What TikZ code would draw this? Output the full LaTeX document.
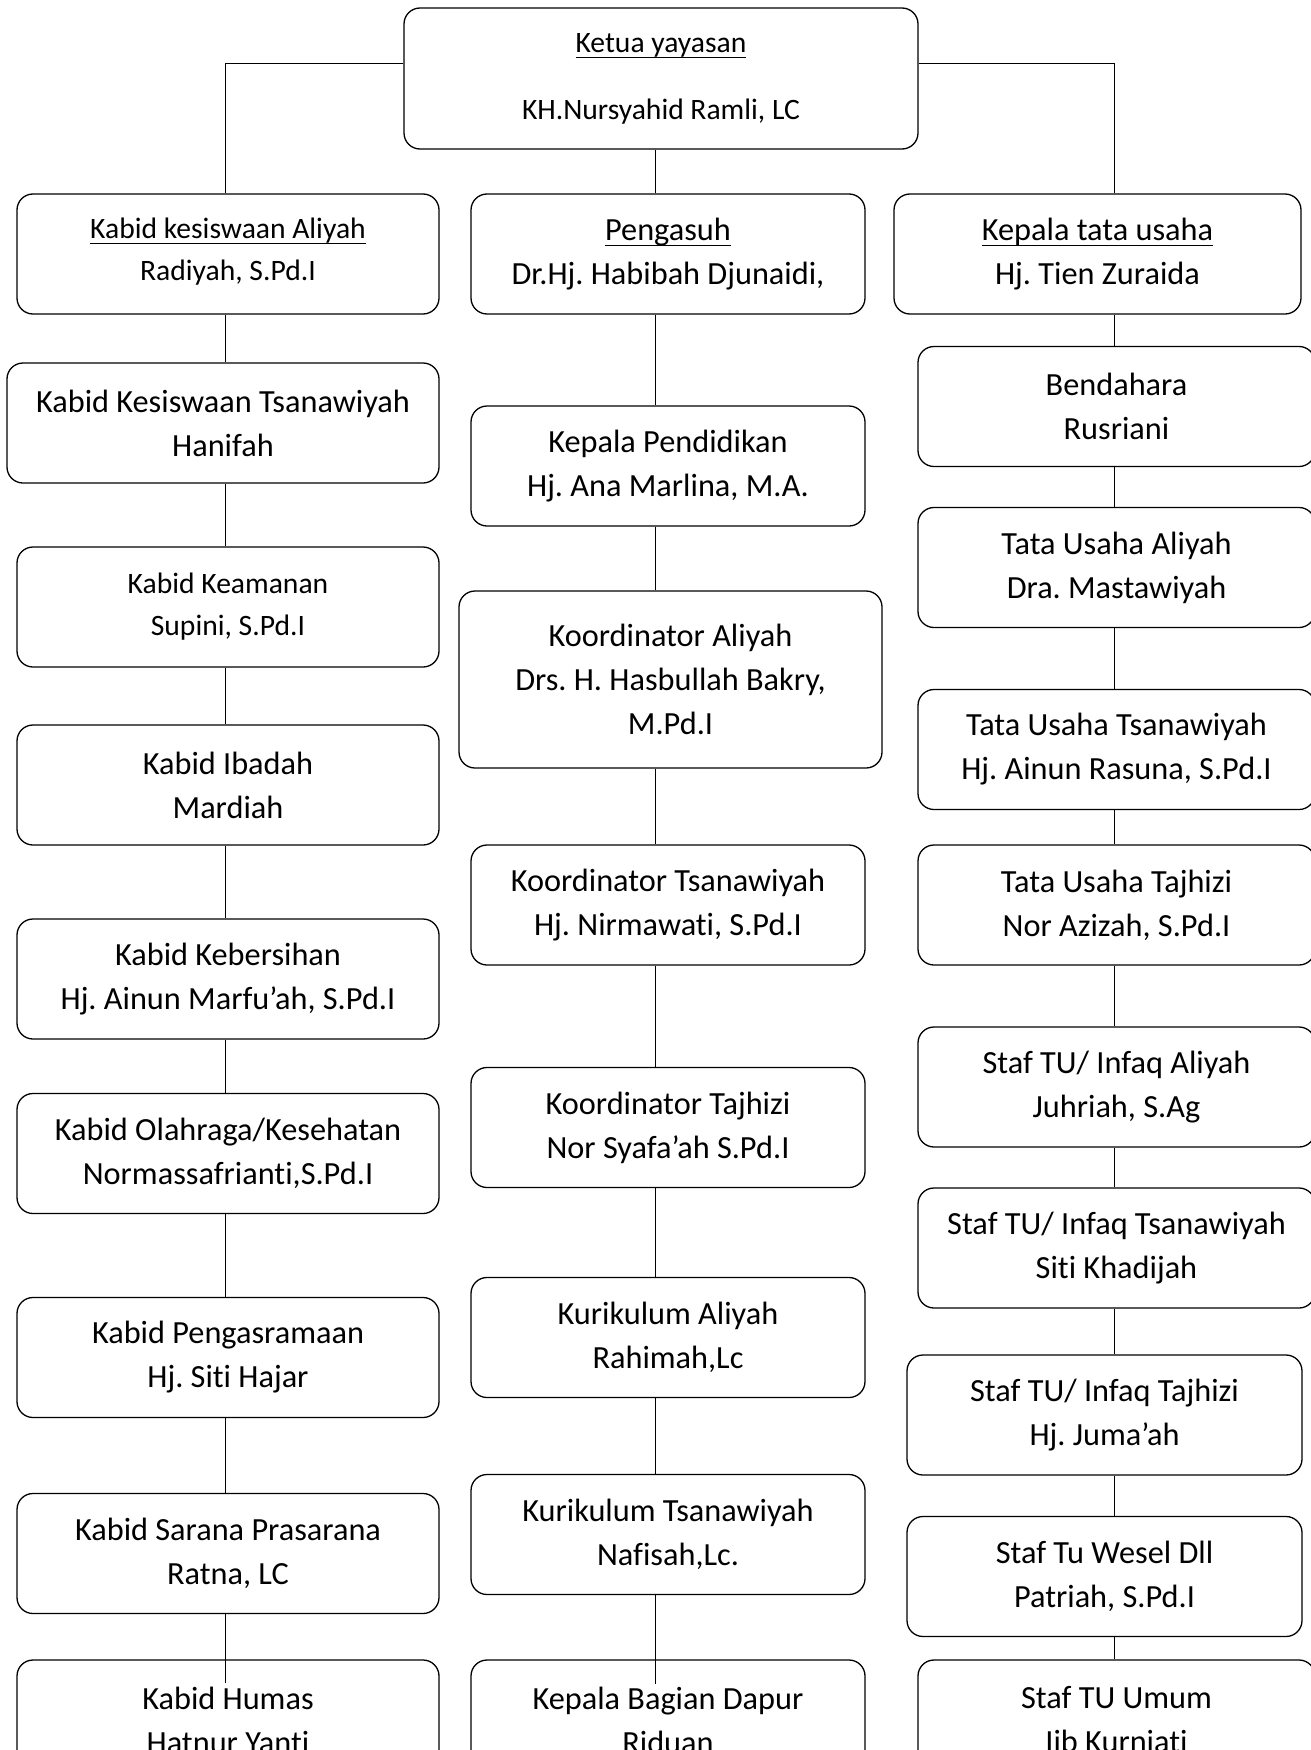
\documentclass[tikz,border=0pt]{standalone}
\usepackage{fontspec}
\setmainfont{Carlito}[Ligatures={NoCommon}]
\usetikzlibrary{calc}
\frenchspacing
\newcommand\garisbawah[1]{\leavevmode\setbox0\hbox{#1}\rlap{\rule[-6pt]{\wd0}{1.4pt}}\box0}

\tikzset{
  kotak/.style={draw, line width=1.3pt, rounded corners=16pt, align=center, inner sep=0pt,
    minimum height=120, font=\fontsize{32.3}{44}\selectfont},
  kotakkecil/.style={kotak, font=\fontsize{29.6}{42}\selectfont},
  garis/.style={line width=1pt},
}

\begin{document}
\begin{tikzpicture}[x=1pt, y=-1pt]
			%%%%% START %%%%%
			\useasboundingbox (0,0) rectangle (1310,1750);
			
			\coordinate (atas) at (0,64);
			\coordinate (kiri) at (225,0);
			\coordinate (tengah) at (655,0);
			\coordinate (kanan) at (1114,0);
			
			% ketua
			\node[kotakkecil, minimum width=514, minimum height=141, font=\fontsize{29.6}{67}\selectfont] (ketua) at (661,78.5) {\garisbawah{Ketua yayasan}\\KH.Nursyahid Ramli, LC};
			
			% kolom kiri
			\node[kotakkecil, minimum width=422, text depth=10pt] (kab1) at (228,254) {\garisbawah{Kabid kesiswaan Aliyah}\\Radiyah, S.Pd.I};
			\node[kotak, minimum width=432] (kab2) at (223,423) {Kabid Kesiswaan Tsanawiyah\\Hanifah};
			\node[kotakkecil, minimum width=422] (kab3) at (228,607) {Kabid Keamanan\\Supini, S.Pd.I};
			\node[kotak, minimum width=422] (kab4) at (228,785) {Kabid Ibadah\\Mardiah};
			\node[kotak, minimum width=422] (kab5) at (228,979) {Kabid Kebersihan\\Hj. Ainun Marfu’ah, S.Pd.I};
			\node[kotak, minimum width=422] (kab6) at (228,1153.5) {Kabid Olahraga/Kesehatan\\Normassafrianti,S.Pd.I};
			\node[kotak, minimum width=422] (kab7) at (228,1357.5) {Kabid Pengasramaan\\Hj. Siti Hajar};
			\node[kotak, minimum width=422] (kab8) at (228,1553.5) {Kabid Sarana Prasarana\\Ratna, LC};
			\node[kotak, minimum width=422] (kab9) at (228,1720) {Kabid Humas\\Hatnur Yanti};
			
			% kolom tengah
			\node[kotak, minimum width=394] (peng1) at (668,254) {\garisbawah{Pengasuh}\\Dr.Hj. Habibah Djunaidi,};
			\node[kotak, minimum width=394] (peng2) at (668,466) {Kepala Pendidikan\\Hj. Ana Marlina, M.A.};
			\node[kotak, minimum width=423, minimum height=177] (peng3) at (670.5,679.5) {Koordinator Aliyah\\Drs. H. Hasbullah Bakry,\\M.Pd.I};
			\node[kotak, minimum width=394] (peng4) at (668,905) {Koordinator Tsanawiyah\\Hj. Nirmawati, S.Pd.I};
			\node[kotak, minimum width=394] (peng5) at (668,1127.5) {Koordinator Tajhizi\\Nor Syafa’ah S.Pd.I};
			\node[kotak, minimum width=394] (peng6) at (668,1337.5) {Kurikulum Aliyah\\Rahimah,Lc};
			\node[kotak, minimum width=394] (peng7) at (668,1534.5) {Kurikulum Tsanawiyah\\Nafisah,Lc.};
			\node[kotak, minimum width=394] (peng8) at (668,1720) {Kepala Bagian Dapur\\Riduan};
			
			% kolom kanan
			\node[kotak, minimum width=407] (tu1) at (1097.5,254) {\garisbawah{Kepala tata usaha}\\Hj. Tien Zuraida};
			\node[kotak, minimum width=397] (tu2) at (1116.5,406.5) {Bendahara\\Rusriani};
			\node[kotak, minimum width=397] (tu3) at (1116.5,567.5) {Tata Usaha Aliyah\\Dra. Mastawiyah};
			\node[kotak, minimum width=397] (tu4) at (1116.5,749.5) {Tata Usaha Tsanawiyah\\Hj. Ainun Rasuna, S.Pd.I};
			\node[kotak, minimum width=397] (tu5) at (1116.5,905) {Tata Usaha Tajhizi\\Nor Azizah, S.Pd.I};
			\node[kotak, minimum width=397] (tu6) at (1116.5,1087) {Staf TU/ Infaq Aliyah\\Juhriah, S.Ag};
			\node[kotak, minimum width=397] (tu7) at (1116.5,1248) {Staf TU/ Infaq Tsanawiyah\\Siti Khadijah};
			\node[kotak, minimum width=395] (tu8) at (1104.5,1415) {Staf TU/ Infaq Tajhizi\\Hj. Juma’ah};
			\node[kotak, minimum width=395] (tu9) at (1104.5,1576.5) {Staf Tu Wesel Dll\\Patriah, S.Pd.I};
			\node[kotak, minimum width=397] (tu10) at (1116.5,1720) {Staf TU Umum\\Iib Kurniati};
			
			% garis dari ketua
			\draw[garis] (ketua.west |- atas) -| (kab1.north -| kiri);
			\draw[garis] (ketua.east |- atas) -| (tu1.north -| kanan);
			\draw[garis] (ketua.south -| tengah) -- (peng1.north -| tengah);
			
			% garis kolom
			\foreach \a/\b in {1/2,2/3,3/4,4/5,5/6,6/7,7/8}
				\draw[garis] (kab\a.south -| kiri) -- (kab\b.north -| kiri);
			\draw[garis, shorten >=-24pt] (kab8.south -| kiri) -- (kab9.north -| kiri);
			
			\foreach \a/\b in {1/2,2/3,3/4,4/5,5/6,6/7}
				\draw[garis] (peng\a.south -| tengah) -- (peng\b.north -| tengah);
			\draw[garis, shorten >=-25pt] (peng7.south -| tengah) -- (peng8.north -| tengah);
			
			\foreach \a/\b in {1/2,2/3,3/4,4/5,5/6,6/7,7/8,8/9,9/10}
				\draw[garis] (tu\a.south -| kanan) -- (tu\b.north -| kanan);
			
			%%%%% END %%%%%
\end{tikzpicture}
\end{document}
